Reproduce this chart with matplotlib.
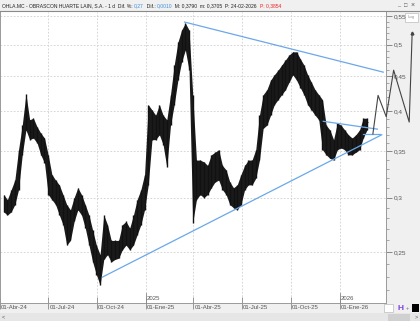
import numpy as np
import matplotlib
matplotlib.use('Agg')
import matplotlib.pyplot as plt
from matplotlib.patches import Rectangle
from matplotlib.ticker import FixedLocator, NullFormatter
import matplotlib.transforms as mtransforms

# ---------------- data ----------------
ORIGIN = '2024-04-01'
first_week = '2024-04-08'
n_weeks = 99

highs = [0.303, 0.298, 0.308, 0.318, 0.352, 0.382, 0.424, 0.389, 0.391, 0.380,
         0.372, 0.366, 0.346, 0.324, 0.318, 0.313, 0.303, 0.293, 0.288, 0.300,
         0.310, 0.303, 0.293, 0.283, 0.269, 0.256, 0.248, 0.283, 0.274, 0.260,
         0.260, 0.260, 0.274, 0.277, 0.271, 0.283, 0.298, 0.308, 0.324, 0.409,
         0.402, 0.395, 0.409, 0.395, 0.389, 0.423, 0.467, 0.504, 0.525, 0.537,
         0.525, 0.423, 0.340, 0.340, 0.338, 0.334, 0.346, 0.349, 0.352, 0.334,
         0.329, 0.316, 0.310, 0.313, 0.324, 0.334, 0.340, 0.340, 0.352, 0.395,
         0.423, 0.430, 0.444, 0.452, 0.459, 0.467, 0.475, 0.483, 0.488, 0.488,
         0.477, 0.467, 0.452, 0.441, 0.430, 0.423, 0.416, 0.382, 0.376, 0.364,
         0.385, 0.382, 0.376, 0.370, 0.366, 0.370, 0.376, 0.391, 0.391]
lows = [0.286, 0.283, 0.286, 0.293, 0.308, 0.346, 0.376, 0.364, 0.366, 0.360,
        0.346, 0.337, 0.303, 0.298, 0.293, 0.283, 0.274, 0.256, 0.260, 0.277,
        0.288, 0.283, 0.271, 0.256, 0.242, 0.232, 0.224, 0.244, 0.248, 0.242,
        0.244, 0.245, 0.252, 0.256, 0.252, 0.256, 0.265, 0.274, 0.288, 0.313,
        0.364, 0.364, 0.370, 0.358, 0.332, 0.382, 0.409, 0.444, 0.472, 0.491,
        0.459, 0.276, 0.298, 0.303, 0.300, 0.303, 0.310, 0.316, 0.318, 0.308,
        0.303, 0.293, 0.290, 0.288, 0.293, 0.308, 0.313, 0.313, 0.320, 0.340,
        0.378, 0.382, 0.395, 0.409, 0.416, 0.423, 0.430, 0.441, 0.452, 0.444,
        0.433, 0.423, 0.409, 0.402, 0.395, 0.389, 0.352, 0.346, 0.342, 0.340,
        0.352, 0.354, 0.352, 0.346, 0.346, 0.349, 0.352, 0.366, 0.376]
last_date = '2026-02-24'
last_price = 0.3854

# trend lines: (date0, value0, date1, value1)
trendlines = [
    ('2025-03-14', 0.539, '2026-03-25', 0.456),
    ('2024-10-10', 0.230, '2026-03-23', 0.370),
    ('2025-12-02', 0.387, '2026-03-13', 0.377),
    ('2026-02-13', 0.371, '2026-03-19', 0.371),
]
# projected zig-zag
proj_dates = ['2026-03-05', '2026-03-16', '2026-03-31', '2026-04-14', '2026-05-13', '2026-05-19']
proj_values = [0.371, 0.422, 0.393, 0.459, 0.386, 0.520]

price_ticks = [0.25, 0.30, 0.35, 0.40, 0.45, 0.50, 0.55]
price_labels = ['0,25', '0,3', '0,35', '0,4', '0,45', '0,5', '0,55']
date_ticks = ['2024-04-01', '2024-07-01', '2024-10-01', '2025-01-01',
              '2025-04-01', '2025-07-01', '2025-10-01', '2026-01-01']
date_labels = ['01-Abr-24', '01-Jul-24', '01-Oct-24', '01-Ene-25',
               '01-Abr-25', '01-Jul-25', '01-Oct-25', '01-Ene-26']
year_marks = [('2025-01-01', '2025'), ('2026-01-01', '2026')]

title_parts = [('OHLA.MC - OBRASCON HUARTE LAIN, S.A. - 1 d  Dif. %: ', '#222222'),
               ('0,27', '#3d8fe0'),
               ('  Dif.: ', '#222222'),
               ('0,0010', '#3d8fe0'),
               ('  M: 0,3790  m: 0,3705  P: 24-02-2026  ', '#222222'),
               ('P: 0,3854', '#ee2222')]


def bidx(d):
    return float(np.busday_count(np.datetime64(ORIGIN), np.datetime64(d)))


week_dates = [np.datetime64(first_week) + np.timedelta64(7 * k, 'D') for k in range(n_weeks)]
xw = np.array([bidx(d) for d in week_dates])

# ---------------- figure ----------------
W, H = 420, 321
plt.rcParams['font.family'] = ['Liberation Sans', 'DejaVu Sans']
fig = plt.figure(figsize=(W / 100, H / 100), dpi=100, facecolor='white')
renderer = fig.canvas.get_renderer()

def px_rect(x0, y0, x1, y1, z=-5, **kw):
    r = Rectangle((x0 / W, 1 - y1 / H), (x1 - x0) / W, (y1 - y0) / H,
                  transform=fig.transFigure, figure=fig, zorder=z, **kw)
    fig.patches.append(r)

GRAY = '#f0f0f0'
px_rect(0, 0, 420, 11, facecolor=GRAY, edgecolor='none')
px_rect(386, 11, 420, 321, facecolor=GRAY, edgecolor='none')
px_rect(0, 303, 420, 321, facecolor=GRAY, edgecolor='none')
px_rect(0, 313, 420, 321, facecolor='#e6e6e6', edgecolor='none')
px_rect(388, 313.5, 410, 320.5, facecolor='#d0d0d0', edgecolor='none', z=-4)

ax_left, ax_right, ax_top, ax_bot = 0, 386, 12, 303
ax = fig.add_axes([ax_left / W, 1 - ax_bot / H, (ax_right - ax_left) / W, (ax_bot - ax_top) / H])
ax.set_facecolor('white')
ax.set_yscale('log')
ax.set_ylim(0.2110, 0.5574)
ax.set_xlim(4.0, 520.7)

# grid
for p in price_ticks:
    ax.axhline(p, color='#cfcfcf', lw=0.6, ls=(0, (2, 2)), zorder=1)
for d in date_ticks:
    ax.axvline(bidx(d), color='#cfcfcf', lw=0.6, ls=(0, (2, 2)), zorder=1)

# price bars
ax.fill_between(xw, lows, highs, color='#1a1a1a', lw=0, zorder=3)
ax.vlines(xw, lows, highs, color='#111111', lw=1.0, zorder=3)
ax.plot([xw[-1], bidx(last_date)], [(highs[-1] + lows[-1]) / 2, last_price], color='#111111', lw=1.0, zorder=3)

# trend lines
for d0, v0, d1, v1 in trendlines:
    ax.plot([bidx(d0), bidx(d1)], [v0, v1], color='#6aa8ea', lw=0.9, zorder=4)

# projection
ax.plot([bidx(d) for d in proj_dates], proj_values, color='#444444', lw=0.8, zorder=6, clip_on=False)
ax.plot([bidx(proj_dates[-1])], [proj_values[-1]], marker='^', ms=2, color='#444444', clip_on=False, zorder=6)

# y axis on right
ax.yaxis.tick_right()
ax.yaxis.set_major_locator(FixedLocator(price_ticks))
ax.set_yticklabels(price_labels)
ax.yaxis.set_minor_locator(FixedLocator([round(0.22 + 0.01 * i, 2) for i in range(34)]))
ax.yaxis.set_minor_formatter(NullFormatter())
ax.tick_params(axis='y', which='major', length=4, width=0.6, color='#777777', labelsize=4.6,
               labelcolor='#555555', pad=1.5, direction='out')
ax.tick_params(axis='y', which='minor', length=2, width=0.5, color='#888888', direction='out')

# x axis: ticks drawn via axis, labels as texts left-aligned after tick
ax.set_xticks([bidx(d) for d in date_ticks])
ax.set_xticklabels([])
ax.tick_params(axis='x', which='major', length=8, width=0.6, color='#888888', direction='inout')
trans = mtransforms.blended_transform_factory(ax.transData, ax.transAxes)
for d, t in zip(date_ticks, date_labels):
    ax.text(bidx(d) + 1.5, -0.017, t, transform=trans, fontsize=4.3, color='#555555',
            ha='left', va='center', clip_on=False)

for d, t in year_marks:
    ax.plot([bidx(d), bidx(d)], [0, 0.035], color='#888888', lw=0.6, transform=trans, clip_on=False, zorder=5)
    ax.text(bidx(d) + 1, 0.008, t, transform=trans, fontsize=4.3, color='#555555', ha='left', va='bottom')

ax.spines['top'].set_visible(False)
for s in ['left', 'right', 'bottom']:
    ax.spines[s].set_color('#9a9a9a')
    ax.spines[s].set_linewidth(0.7)

# title: chained pieces, scaled so the whole line spans x=2..280 px
fig.add_artist(plt.Line2D([0, 1], [1 - 11 / H, 1 - 11 / H], color='#8a8a8a', lw=0.8, transform=fig.transFigure))

def draw_title(fs):
    x = 2.0
    arts = []
    for t, c in title_parts:
        a = fig.text(x / W, 1 - 6 / H, t, fontsize=fs, color=c, ha='left', va='center')
        bb = a.get_window_extent(renderer)
        x += bb.width
        arts.append(a)
    return x, arts

end, arts = draw_title(4.0)
for a in arts:
    a.remove()
fs = 4.0 * (278.0 / (end - 2.0))
draw_title(fs)

# window buttons
fig.text(399 / W, 1 - 5 / H, '_', fontsize=4, color='#555555', ha='center', va='center')
fig.text(406 / W, 1 - 5.5 / H, '\u25a1', fontsize=4, color='#555555', ha='center', va='center')
fig.text(413 / W, 1 - 5.5 / H, '\u00d7', fontsize=5, color='#555555', ha='center', va='center')
# Log button
px_rect(405, 12.5, 418, 22, facecolor='white', edgecolor='#bbbbbb', lw=0.5, z=-3)
fig.text(411.5 / W, 1 - 17 / H, 'Log', fontsize=3.2, color='#999999', ha='center', va='center')
# bottom-right icons
px_rect(384, 304, 393, 312, facecolor='white', edgecolor='#bbbbbb', lw=0.5, z=-3)
fig.text(401 / W, 1 - 308 / H, 'H', fontsize=6, color='#7b3fe0', ha='center', va='center', weight='bold')
fig.text(407.5 / W, 1 - 308 / H, '+', fontsize=4, color='#666666', ha='center', va='center')
px_rect(412, 304, 419, 312, facecolor='black', edgecolor='none', z=-3)
fig.text(3 / W, 1 - 317 / H, '<', fontsize=4, color='#555555', ha='center', va='center')
fig.text(416 / W, 1 - 317 / H, '>', fontsize=4, color='#555555', ha='center', va='center')

fig.savefig('out.png', dpi=100, facecolor='white')
